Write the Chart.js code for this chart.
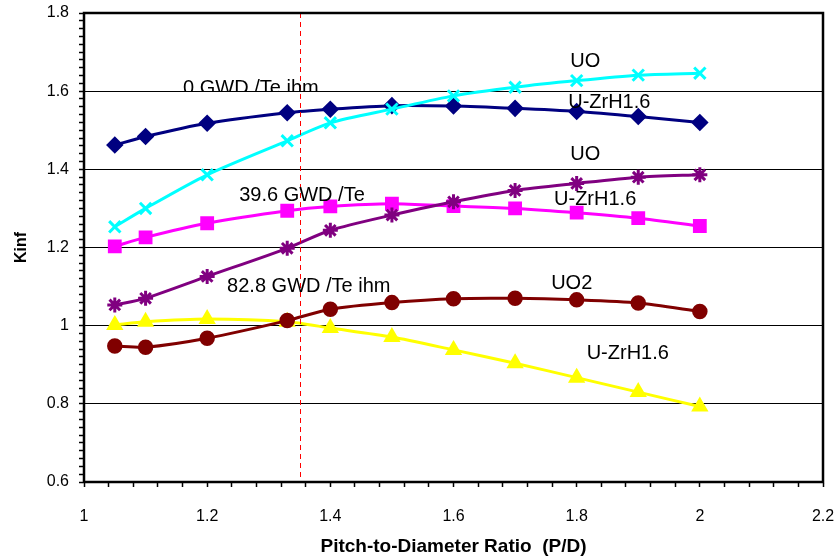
<!DOCTYPE html>
<html>
<head>
<meta charset="utf-8">
<title>Kinf vs P/D</title>
<script src="https://cdn.jsdelivr.net/npm/chart.js@4.4.1/dist/chart.umd.min.js"></script>
<style>
  html, body { margin: 0; padding: 0; background: #fff; }
  #wrap { width: 840px; height: 558px; }
</style>
</head>
<body>
<div id="wrap"><canvas id="myChart" width="840" height="558"></canvas></div>
<script>
'use strict';

// pitch-to-diameter ratios
let pdRatios = [1.05, 1.1, 1.2, 1.33, 1.4, 1.5, 1.6, 1.7, 1.8, 1.9, 2.0];

// Kinf values
let uo2Fresh = [1.253, 1.300, 1.386, 1.473, 1.519, 1.554, 1.588, 1.610, 1.627, 1.641, 1.646];
let zrhFresh = [1.462, 1.484, 1.518, 1.545, 1.554, 1.563, 1.562, 1.556, 1.548, 1.535, 1.520];
let uo2Mid = [1.053, 1.070, 1.126, 1.198, 1.244, 1.283, 1.317, 1.346, 1.364, 1.380, 1.386];
let zrhMid = [1.203, 1.226, 1.262, 1.294, 1.305, 1.312, 1.306, 1.300, 1.289, 1.275, 1.255];
let uo2End = [0.948, 0.945, 0.968, 1.013, 1.042, 1.059, 1.069, 1.070, 1.066, 1.058, 1.036];
let zrhEnd = [1.002, 1.010, 1.017, 1.010, 0.994, 0.971, 0.938, 0.904, 0.867, 0.830, 0.793];

let refLineX = 1.35;

let xTicks = [1, 1.2, 1.4, 1.6, 1.8, 2, 2.2];
let yTicks = [0.6, 0.8, 1, 1.2, 1.4, 1.6, 1.8];

// text notes on the plot: [text, x value, y value]
let notes = [
  ['39.6 GWD /Te', 1.354, 1.332],
  ['82.8 GWD /Te ihm', 1.365, 1.099],
  ['UO', 1.814, 1.675],
  ['U-ZrH1.6', 1.853, 1.570],
  ['UO', 1.814, 1.439],
  ['U-ZrH1.6', 1.830, 1.322],
  ['UO2', 1.792, 1.109],
  ['U-ZrH1.6', 1.883, 0.928]
];

function toPoints(values) {
  let pts = [];
  for (let i = 0; i < pdRatios.length; i++) {
    pts.push({ x: pdRatios[i], y: values[i] });
  }
  return pts;
}

function makeSet(label, values, color, style, radius, bw) {
  return {
    label: label,
    data: toPoints(values),
    borderColor: color,
    backgroundColor: color,
    pointBackgroundColor: color,
    pointBorderColor: color,
    pointStyle: style,
    pointRadius: radius,
    pointHoverRadius: radius,
    pointBorderWidth: bw,
    borderWidth: 3,
    tension: 0.25
  };
}

function isMajor(v) {
  return Math.abs(v * 5 - Math.round(v * 5)) < 1e-6;
}

function fmt(v) {
  return String(Math.round(v * 10) / 10);
}

let font = 'Arial, "Liberation Sans", sans-serif';

let extras = {
  id: 'extras',
  afterDatasetsDraw(chart) {
    let ctx = chart.ctx;
    let area = chart.chartArea;
    let xs = chart.scales.x;
    let ys = chart.scales.y;
    ctx.save();

    // dashed reference line
    let rx = Math.round(xs.getPixelForValue(refLineX)) + 0.5;
    ctx.strokeStyle = '#ff0000';
    ctx.lineWidth = 1;
    ctx.setLineDash([5, 4]);
    ctx.beginPath();
    ctx.moveTo(rx, area.top);
    ctx.lineTo(rx, area.bottom);
    ctx.stroke();
    ctx.setLineDash([]);

    // notes
    ctx.fillStyle = '#000';
    ctx.font = '20px ' + font;
    ctx.textAlign = 'center';
    ctx.textBaseline = 'middle';
    for (let i = 0; i < notes.length; i++) {
      ctx.fillText(notes[i][0], xs.getPixelForValue(notes[i][1]), ys.getPixelForValue(notes[i][2]));
    }

    // first note, clipped by the 1.6 grid line
    let cy = ys.getPixelForValue(1.6);
    ctx.save();
    ctx.beginPath();
    ctx.rect(area.left, area.top, area.right - area.left, cy - area.top);
    ctx.clip();
    ctx.textBaseline = 'alphabetic';
    ctx.fillText('0 GWD /Te ihm', xs.getPixelForValue(1.271), cy + 3);
    ctx.restore();

    // frame
    ctx.strokeStyle = '#000';
    ctx.lineWidth = 2.5;
    ctx.strokeRect(area.left, area.top, area.right - area.left, area.bottom - area.top);
    ctx.restore();
  }
};

let chartConfig = {
  type: 'line',
  data: {
    datasets: [
      makeSet('0 GWD/Te UO2', uo2Fresh, '#00ffff', 'crossRot', 8, 3),
      makeSet('0 GWD/Te U-ZrH1.6', zrhFresh, '#000080', 'rectRot', 7, 2.5),
      makeSet('39.6 GWD/Te UO2', uo2Mid, '#800080', 'star', 7.5, 3),
      makeSet('39.6 GWD/Te U-ZrH1.6', zrhMid, '#ff00ff', 'rect', 8, 2.5),
      makeSet('82.8 GWD/Te UO2', uo2End, '#800000', 'circle', 6.5, 2.5),
      makeSet('82.8 GWD/Te U-ZrH1.6', zrhEnd, '#ffff00', 'triangle', 7.5, 2.5)
    ]
  },
  options: {
    responsive: false,
    animation: false,
    devicePixelRatio: 1,
    layout: { padding: { top: 13, right: 17, left: 0, bottom: 0 } },
    plugins: {
      legend: { display: false },
      tooltip: { enabled: false }
    },
    scales: {
      x: {
        type: 'linear',
        min: xTicks[0],
        max: xTicks[xTicks.length - 1],
        afterFit(scale) {
          scale.height = 76;
          scale.paddingLeft = 0;
          scale.paddingRight = 0;
        },
        border: { display: true, color: '#000', width: 2 },
        grid: {
          drawOnChartArea: false,
          tickColor: '#000',
          tickLength: 5,
          tickWidth: 1.5
        },
        ticks: {
          stepSize: 0.04,
          autoSkip: false,
          maxRotation: 0,
          padding: 20,
          color: '#000',
          font: { family: font, size: 16 },
          callback: (v) => (isMajor(v) && xTicks.some(t => Math.abs(t - v) < 1e-6) ? fmt(v) : '')
        },
        title: {
          display: true,
          text: 'Pitch-to-Diameter Ratio  (P/D)',
          color: '#000',
          font: { family: font, size: 19, weight: 'bold' },
          padding: { top: 0, bottom: 0 }
        }
      },
      y: {
        type: 'linear',
        min: yTicks[0],
        max: yTicks[yTicks.length - 1],
        afterFit(scale) {
          scale.width = 84;
          scale.paddingTop = 0;
          scale.paddingBottom = 0;
        },
        border: { display: true, color: '#000', width: 2 },
        grid: {
          color: (c) => (c.tick && isMajor(c.tick.value) ? '#000' : 'rgba(0,0,0,0)'),
          lineWidth: 1,
          tickColor: '#000',
          tickLength: 5,
          tickWidth: 1.5
        },
        ticks: {
          stepSize: 0.02,
          autoSkip: false,
          padding: 10,
          color: '#000',
          font: { family: font, size: 16 },
          callback: (v) => (isMajor(v) ? fmt(v) : '')
        },
        title: {
          display: true,
          text: 'Kinf',
          color: '#000',
          font: { family: font, size: 16, weight: 'bold' },
          padding: { top: 12, bottom: 0 }
        }
      }
    }
  },
  plugins: [extras]
};

let ctx = document.getElementById('myChart').getContext('2d');
let myChart = new Chart(ctx, chartConfig); //eslint-disable-line
</script>
</body>
</html>
